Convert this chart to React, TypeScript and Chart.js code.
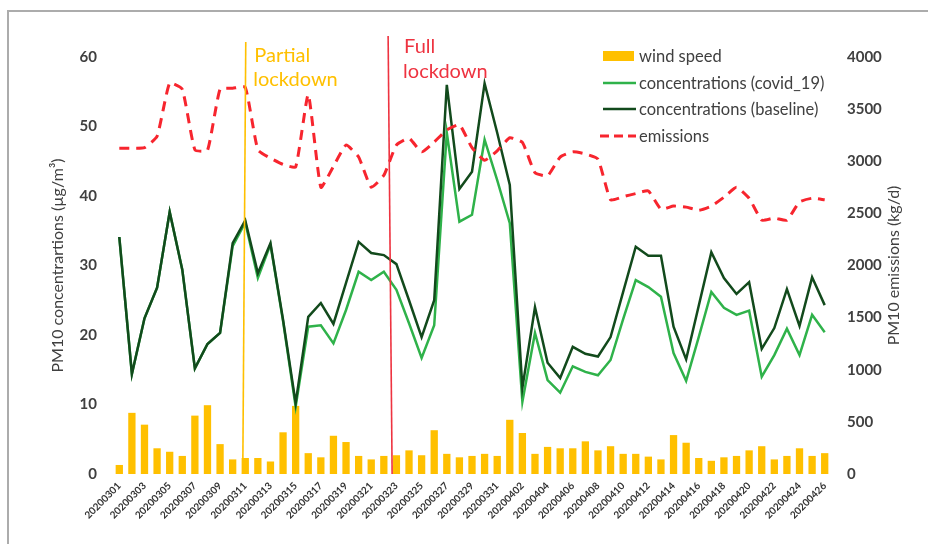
import React, { useEffect, useRef } from 'react';
import { Chart, registerables } from 'chart.js';

Chart.register(...registerables);

const dates = [
  '20200301', '20200302', '20200303', '20200304', '20200305', '20200306', '20200307', '20200308',
  '20200309', '20200310', '20200311', '20200312', '20200313', '20200314', '20200315', '20200316',
  '20200317', '20200318', '20200319', '20200320', '20200321', '20200322', '20200323', '20200324',
  '20200325', '20200326', '20200327', '20200328', '20200329', '20200330', '20200331', '20200401',
  '20200402', '20200403', '20200404', '20200405', '20200406', '20200407', '20200408', '20200409',
  '20200410', '20200411', '20200412', '20200413', '20200414', '20200415', '20200416', '20200417',
  '20200418', '20200419', '20200420', '20200421', '20200422', '20200423', '20200424', '20200425',
  '20200426',
];

const windSpeed = [
  1.3, 8.8, 7.1, 3.7, 3.2, 2.6, 8.4, 9.9, 4.3, 2.1, 2.3, 2.3, 1.8, 6.0,
  9.8, 3.0, 2.4, 5.5, 4.6, 2.6, 2.1, 2.6, 2.7, 3.4, 2.7, 6.3, 2.9, 2.4,
  2.6, 2.9, 2.6, 7.8, 5.9, 2.9, 3.9, 3.7, 3.7, 4.7, 3.4, 4.0, 2.9,
  2.9, 2.5, 2.1, 5.6, 4.5, 2.3, 1.9, 2.4, 2.6, 3.4, 4.0, 2.1, 2.6, 3.7, 2.6, 3.0,
];

const concCovid = [
  34.1, 14.4, 22.4, 26.8, 37.7, 29.4, 15.2, 18.7, 20.3, 32.8, 36.2, 28.2, 33.0, 22.0,
  9.7, 21.2, 21.4, 18.8, 23.6, 29.1, 27.9, 29.1, 26.5, 21.7, 16.7, 21.4, 49.1, 36.3,
  37.3, 48.1, 42.3, 36.1, 10.4, 20.3, 13.5, 11.7, 15.5, 14.7, 14.2, 16.4, 22.3,
  27.9, 26.9, 25.5, 17.4, 13.4, 19.7, 26.2, 23.9, 22.9, 23.5, 14.0, 17.1, 20.9, 17.1, 22.9, 20.4,
];

const concBaseline = [
  34.1, 14.4, 22.4, 26.8, 37.7, 29.4, 15.2, 18.7, 20.3, 33.2, 36.5, 28.9, 33.2, 22.2,
  10.2, 22.6, 24.6, 21.6, 27.5, 33.4, 31.8, 31.5, 30.2, 25.0, 19.7, 25.0, 56.0, 41.0,
  43.5, 56.2, 49.1, 41.6, 12.4, 24.0, 16.0, 13.8, 18.3, 17.3, 16.9, 19.7, 26.2,
  32.7, 31.4, 31.4, 21.2, 16.5, 24.2, 31.9, 28.2, 25.9, 27.6, 18.0, 21.0, 26.6, 21.3, 28.3, 24.3,
];

const emissions = [
  3125, 3125, 3130, 3240, 3750, 3690, 3110, 3105, 3690, 3700, 3710, 3110, 3030, 2970,
  2945, 3640, 2750, 2950, 3155, 3040, 2750, 2865, 3155, 3220, 3090, 3185, 3300, 3350,
  3130, 3010, 3100, 3225, 3180, 2890, 2860, 3040, 3090, 3070, 3020, 2630, 2660,
  2690, 2715, 2540, 2570, 2560, 2530, 2570, 2655, 2750, 2645, 2435, 2455, 2435, 2610, 2645, 2630,
];

const seriesNames = ['wind speed', 'concentrations (covid_19)', 'concentrations (baseline)', 'emissions'];
const partialLockdownIndex = 10;
const fullLockdownIndex = 21.5;

const COLORS = {
  wind: '#FFC000',
  covid: '#2FB24A',
  baseline: '#124A1C',
  emissions: '#F7252E',
  text: '#404040',
  partial: '#FFC000',
  full: '#EE3340',
};

const FONT = 'Lato, "Open Sans", sans-serif';

const decorPlugin = {
  id: 'decor',
  beforeDraw(chart: any) {
    const ctx = chart.ctx;
    ctx.save();
    ctx.fillStyle = '#ffffff';
    ctx.fillRect(0, 0, chart.width, chart.height);
    ctx.strokeStyle = '#acacac';
    ctx.lineWidth = 2;
    ctx.beginPath();
    ctx.moveTo(8, chart.height);
    ctx.lineTo(8, 11);
    ctx.lineTo(chart.width, 11);
    ctx.stroke();
    ctx.restore();
  },
  afterDatasetsDraw(chart: any) {
    const ctx = chart.ctx;
    const xs = chart.scales.x;
    const ys = chart.scales.y;
    const bottom = ys.getPixelForValue(0);
    ctx.save();

    // lockdown lines
    const xp = xs.getPixelForValue(partialLockdownIndex);
    ctx.strokeStyle = COLORS.partial;
    ctx.lineWidth = 1.6;
    ctx.beginPath();
    ctx.moveTo(xp + 0.5, 42);
    ctx.lineTo(xp - 2.5, bottom);
    ctx.stroke();

    const xf = xs.getPixelForValue(fullLockdownIndex);
    ctx.strokeStyle = COLORS.full;
    ctx.beginPath();
    ctx.moveTo(xf - 2, 36);
    ctx.lineTo(xf + 2, bottom);
    ctx.stroke();

    // annotation texts
    ctx.font = `20px ${FONT}`;
    ctx.textAlign = 'left';
    ctx.textBaseline = 'alphabetic';
    ctx.fillStyle = COLORS.partial;
    ctx.fillText('Partial', xp + 9, 62);
    ctx.fillText('lockdown', xp + 8, 86);
    ctx.fillStyle = COLORS.full;
    ctx.fillText('Full', xf + 14, 53);
    ctx.fillText('lockdown', xf + 13, 78);

    // axis titles
    ctx.fillStyle = COLORS.text;
    ctx.font = `16px ${FONT}`;
    ctx.textAlign = 'center';
    ctx.textBaseline = 'middle';
    const cy = (chart.chartArea.top + chart.chartArea.bottom) / 2;
    ctx.save();
    ctx.translate(58, cy);
    ctx.rotate(-Math.PI / 2);
    ctx.fillText('PM10 concentrartions (\u00b5g/m\u00b3)', 0, 0);
    ctx.restore();
    ctx.save();
    ctx.translate(894, cy);
    ctx.rotate(-Math.PI / 2);
    ctx.fillText('PM10 emissions (kg/d)', 0, 0);
    ctx.restore();

    // legend
    const lx = 603;
    const rows = [56, 83, 109, 136];
    ctx.font = `16.5px ${FONT}`;
    ctx.textAlign = 'left';
    ctx.textBaseline = 'middle';
    seriesNames.forEach((name, i) => {
      const y = rows[i];
      if (i === 0) {
        ctx.fillStyle = COLORS.wind;
        ctx.fillRect(lx, y - 5, 31, 10);
      } else {
        ctx.strokeStyle = i === 1 ? COLORS.covid : i === 2 ? COLORS.baseline : COLORS.emissions;
        ctx.lineWidth = i === 3 ? 3 : 2.5;
        ctx.setLineDash(i === 3 ? [9, 5] : []);
        ctx.beginPath();
        ctx.moveTo(i === 3 ? lx - 3 : lx, y);
        ctx.lineTo(lx + 33, y);
        ctx.stroke();
        ctx.setLineDash([]);
      }
      ctx.fillStyle = COLORS.text;
      ctx.fillText(name, lx + 36, y + 1);
    });

    ctx.restore();
  },
};

export default function App() {
  const ref = useRef<HTMLCanvasElement | null>(null);

  useEffect(() => {
    if (!ref.current) return;
    const chart = new Chart(ref.current, {
      type: 'bar',
      data: {
        labels: dates,
        datasets: [
          {
            type: 'line',
            label: seriesNames[3],
            data: emissions,
            yAxisID: 'y1',
            borderColor: COLORS.emissions,
            borderWidth: 3,
            borderDash: [10, 7],
            pointRadius: 0,
            tension: 0.15,
            fill: false,
            order: 0,
          },
          {
            type: 'line',
            label: seriesNames[2],
            data: concBaseline,
            yAxisID: 'y',
            borderColor: COLORS.baseline,
            borderWidth: 2.5,
            pointRadius: 0,
            tension: 0,
            fill: false,
            order: 1,
          },
          {
            type: 'line',
            label: seriesNames[1],
            data: concCovid,
            yAxisID: 'y',
            borderColor: COLORS.covid,
            borderWidth: 2.5,
            pointRadius: 0,
            tension: 0,
            fill: false,
            order: 2,
          },
          {
            type: 'bar',
            label: seriesNames[0],
            data: windSpeed,
            yAxisID: 'y',
            backgroundColor: COLORS.wind,
            barPercentage: 0.58,
            categoryPercentage: 1,
            order: 3,
          },
        ],
      },
      options: {
        responsive: false,
        animation: false,
        devicePixelRatio: 1,
        layout: { padding: { top: 57, left: 0, right: 0, bottom: 0 } },
        plugins: {
          legend: { display: false },
          tooltip: { enabled: false },
          title: { display: false },
        },
        scales: {
          x: {
            type: 'category',
            offset: true,
            grid: { display: false, drawTicks: false },
            border: { display: false },
            ticks: {
              autoSkip: false,
              minRotation: 45,
              maxRotation: 45,
              padding: 6,
              color: '#333333',
              font: { family: FONT, size: 10, weight: 'bold' },
              callback: (_v: any, i: number) => (i % 2 === 0 ? dates[i] : ''),
            },
            afterFit: (s: any) => { s.height = 70; },
          },
          y: {
            type: 'linear',
            position: 'left',
            min: 0,
            max: 60,
            grid: { display: false, drawTicks: false },
            border: { display: false },
            ticks: {
              stepSize: 10,
              padding: 16,
              color: COLORS.text,
              font: { family: FONT, size: 15, weight: 'bold' },
              callback: (v: any) => String(v),
            },
            afterFit: (s: any) => { s.width = 113; },
          },
          y1: {
            type: 'linear',
            position: 'right',
            min: 0,
            max: 4000,
            grid: { display: false, drawTicks: false },
            border: { display: false },
            ticks: {
              stepSize: 500,
              padding: 16,
              color: COLORS.text,
              font: { family: FONT, size: 15, weight: 'bold' },
              callback: (v: any) => String(v),
            },
            afterFit: (s: any) => { s.width = 97; },
          },
        },
      },
      plugins: [decorPlugin],
    } as any);
    return () => chart.destroy();
  }, []);

  return (
    <div style={{ position: 'absolute', left: 0, top: 0, width: 928, height: 544 }}>
      <canvas ref={ref} width={928} height={544} style={{ width: 928, height: 544, display: 'block' }} />
    </div>
  );
}
